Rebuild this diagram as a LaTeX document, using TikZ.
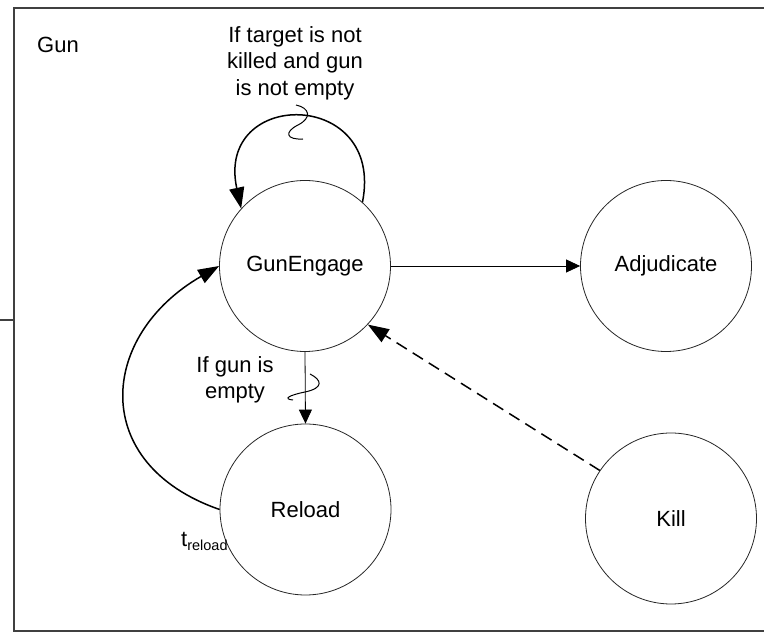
\documentclass[tikz,border=0pt]{standalone}
\usepackage{fontspec}
\setmainfont{Liberation Sans}
\usetikzlibrary{arrows.meta}
\begin{document}
\begin{tikzpicture}[x=1pt,y=1pt,
  state/.style={circle,draw=black!85,line width=0.8pt,minimum size=171pt,inner sep=0pt,
    font=\fontsize{22}{26.5}\selectfont},
  thinarrow/.style={draw=black,line width=0.8pt,-{Triangle[length=14pt,width=13pt]}},
  thickarrow/.style={draw=black,line width=1.5pt,-{Triangle[length=21pt,width=15pt]}},
  lbl/.style={font=\fontsize{22}{26.5}\selectfont,inner sep=0pt,align=center},
  squiggle/.style={draw=black,line width=1pt},
  frameline/.style={draw=black!75,line width=1.3pt}]
\useasboundingbox (0,0) rectangle (764,632);

% enclosing frame of the Gun component
\draw[frameline] (14,1) rectangle (772,624);
\draw[frameline] (0,312) -- (14,312);

% states
\node[state] (ge)   at (305,366)     {GunEngage};
\node[state] (adj)  at (666,366)     {Adjudicate};
\node[state] (rel)  at (305.5,122.5) {Reload};
\node[state] (kill) at (671,113.5)   {Kill};

% transitions
\draw[thinarrow] (ge.east) -- (adj.west);
\draw[thinarrow] (ge.south) -- (rel.north);
\draw[thickarrow] (ge.48) .. controls (385,544) and (215,544) .. (ge.138);
\draw[thickarrow] (rel.west) .. controls (88.5,168) and (98.6,296.5) .. (ge.west);
\draw[thickarrow,dash pattern=on 12pt off 7pt] (kill.146) -- (ge.-43);

% condition marks on the transitions
\draw[squiggle] (296,527) .. controls (310,524) and (312,514) .. (298,507)
                .. controls (284,500) and (286,492) .. (303,493);
\draw[squiggle] (310,258) .. controls (322,252) and (324,244) .. (305,240)
                .. controls (290,237) and (282,233) .. (293,232);

% labels
\node[lbl,anchor=base west] (gunlbl) at (37,579) {Gun};
\node[lbl] (looplbl) at (295,569) {If target is not\\killed and gun\\is not empty};
\node[lbl] (emptylbl) at (235,252) {If gun is\\empty};
\node[lbl,anchor=base west] (tlbl) at (181,85)
  {t\raisebox{-4pt}{\fontsize{14.5}{14.5}\selectfont reload}};
\end{tikzpicture}
\end{document}
